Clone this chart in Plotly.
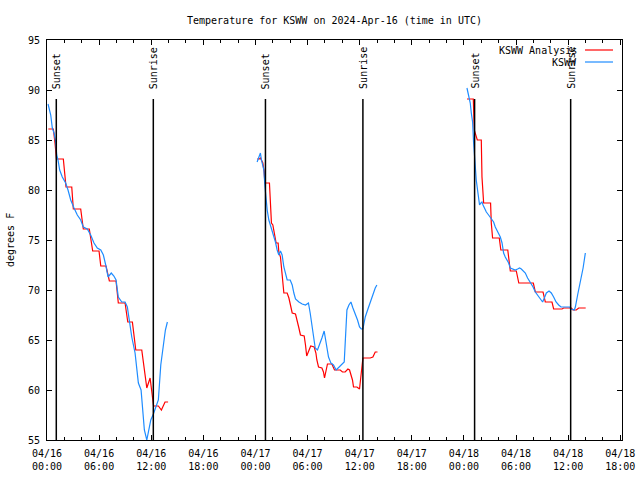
import plotly.graph_objects as go
import pandas as pd

# ---------------- data (hours since 2024-04-16 00:00 UTC, temperature in F) ----------------
# KSWW Analysis (red)
r1_h = [0.15, 0.73, 0.92, 1.09, 1.88, 2.19, 2.85, 3.03, 3.88, 4.18, 4.87, 5.26, 5.99, 6.19, 6.80, 7.18,
        7.95, 8.21, 8.99, 9.30, 9.83, 10.22, 10.91, 11.21, 11.49, 11.87, 12.13, 12.27, 12.82, 13.17, 13.59, 13.94]
r1_t = [86.1, 86.1, 84.7, 83.1, 83.1, 80.3, 80.3, 78.1, 78.1, 76.1, 76.1, 73.9, 73.9, 72.4, 72.4, 70.9,
        70.9, 68.7, 68.7, 66.8, 66.8, 64.0, 64.0, 61.7, 60.2, 61.2, 59.0, 58.4, 58.4, 58.0, 58.8, 58.8]
r2_h = [24.19, 24.46, 24.57, 24.85, 25.00, 25.08, 25.61, 25.73, 25.84, 26.00, 26.12, 26.23, 26.38, 26.61,
        26.69, 26.88, 26.99, 27.15, 27.27, 27.65, 27.85, 28.03, 28.23, 28.61, 28.80, 29.00, 29.18, 29.61,
        29.76, 29.90, 30.13, 30.36, 30.76, 30.96, 31.07, 31.26, 31.65, 31.83, 31.95, 32.14, 32.29, 32.80,
        32.98, 33.10, 33.76, 34.02, 34.33, 34.64, 34.83, 34.99, 35.17, 35.29, 35.68, 35.98, 36.14, 36.26,
        36.37, 37.21, 37.52, 37.79, 38.05]
r2_t = [83.1, 83.1, 83.2, 82.7, 81.8, 80.7, 80.7, 78.3, 76.7, 76.5, 75.8, 75.2, 74.7, 74.7,
        73.8, 73.3, 72.2, 71.0, 69.7, 69.7, 69.2, 68.5, 67.7, 67.6, 67.0, 66.2, 65.5, 65.4,
        64.5, 63.4, 63.9, 64.4, 64.3, 63.7, 63.0, 62.3, 62.2, 61.8, 61.2, 62.0, 62.6, 62.6,
        62.3, 62.0, 62.0, 61.8, 61.8, 62.1, 62.0, 61.5, 61.0, 60.3, 60.3, 60.1, 61.5, 62.6,
        63.2, 63.2, 63.3, 63.8, 63.8]
r3_h = [48.35, 49.08, 49.19, 49.37, 49.54, 50.00, 50.08, 50.27, 51.07, 51.15, 51.30, 52.07, 52.25, 53.05,
        53.26, 53.34, 54.03, 54.32, 55.99, 56.22, 57.11, 57.37, 58.14, 58.33, 59.30, 59.48, 60.37, 60.56,
        60.94, 61.21, 62.02]
r3_t = [89.1, 89.1, 86.0, 85.4, 85.0, 85.0, 81.3, 78.7, 78.7, 76.7, 75.2, 75.2, 74.0, 74.0,
        72.2, 71.9, 71.9, 70.7, 70.7, 69.8, 69.8, 68.8, 68.8, 68.1, 68.1, 68.2, 68.2, 68.0,
        68.0, 68.2, 68.2]

# KSWW observations (blue)
b1_h = [0.12, 0.43, 0.61, 0.81, 1.00, 1.12, 1.27, 1.46, 1.76, 2.15, 2.42, 2.73, 3.11, 3.49, 3.88, 4.18,
        4.64, 5.03, 5.41, 5.79, 6.19, 6.49, 6.76, 7.03, 7.40, 7.70, 7.95, 8.21, 8.61, 8.99, 9.25, 9.48,
        9.76, 10.14, 10.52, 10.83, 11.03, 11.21, 11.49, 11.72, 11.95, 12.25, 12.56, 12.82, 13.10, 13.40,
        13.63, 13.86]
b1_t = [88.6, 87.5, 86.2, 85.7, 84.8, 83.5, 83.0, 82.0, 81.3, 80.7, 80.0, 79.0, 78.2, 77.5, 77.0, 76.3,
        76.1, 75.5, 74.7, 74.2, 74.0, 73.5, 72.5, 71.3, 71.7, 71.4, 71.0, 69.3, 68.8, 68.8, 68.3, 66.7,
        65.3, 63.7, 60.7, 60.0, 58.0, 56.0, 55.0, 56.0, 57.0, 57.6, 58.3, 59.0, 62.5, 64.5,
        66.0, 66.8]
b2_h = [24.19, 24.39, 24.57, 24.69, 24.85, 24.97, 25.08, 25.23, 25.35, 25.54, 25.73, 25.92, 26.12, 26.30,
        26.50, 26.69, 26.88, 27.07, 27.27, 27.45, 27.65, 28.00, 28.23, 28.42, 28.61, 29.00, 29.38, 29.76,
        30.10, 30.30, 30.61, 30.88, 31.14, 31.37, 31.65, 31.91, 32.14, 32.41, 32.68, 32.98, 33.29, 33.67,
        33.95, 34.22, 34.41, 34.53, 34.76, 34.99, 35.22, 35.48, 35.75, 35.98, 36.18, 36.37, 36.64, 36.95,
        37.21, 37.52, 37.79, 37.98]
b2_t = [82.8, 83.2, 83.7, 83.0, 82.5, 82.0, 80.5, 78.7, 78.0, 77.0, 76.5, 76.0, 75.5, 74.8,
        74.0, 73.5, 73.9, 73.5, 72.3, 71.5, 71.0, 71.0, 70.5, 69.7, 69.1, 68.8, 68.6, 68.5,
        68.7, 67.7, 66.0, 64.2, 64.0, 64.5, 65.2, 65.9, 64.5, 63.3, 62.7, 62.5, 62.0, 62.3,
        62.5, 62.8, 66.0, 68.0, 68.5, 68.8, 68.2, 67.7, 67.0, 66.3, 66.1, 66.1, 67.3, 68.1,
        68.8, 69.5, 70.2, 70.5]
b3_h = [48.35, 48.54, 48.73, 48.85, 49.00, 49.11, 49.23, 49.31, 49.42, 49.57, 49.69, 49.80, 49.96, 50.08,
        50.20, 50.35, 50.58, 50.84, 51.12, 51.42, 51.61, 51.81, 51.99, 52.19, 52.39, 52.57, 52.76, 52.96,
        53.15, 53.34, 53.65, 53.92, 54.18, 54.41, 54.61, 54.80, 55.07, 55.33, 55.65, 55.96, 56.22, 56.49,
        56.80, 57.06, 57.26, 57.49, 57.80, 58.06, 58.33, 58.61, 58.91, 59.18, 60.17, 60.33, 60.71, 60.83,
        61.09, 61.40, 61.72, 61.98]
b3_t = [90.2, 89.5, 88.7, 87.7, 86.8, 84.8, 83.3, 82.0, 81.0, 80.0, 79.3, 78.5, 78.7, 78.8,
        78.5, 78.2, 77.8, 77.5, 77.2, 76.8, 76.3, 76.0, 75.7, 75.3, 74.7, 73.7, 73.3, 73.0,
        72.7, 72.2, 72.1, 72.0, 72.1, 72.2, 72.1, 71.9, 71.7, 71.2, 70.8, 70.3, 69.8, 69.5,
        69.2, 68.8, 69.2, 69.7, 69.9, 69.7, 69.3, 68.8, 68.5, 68.3, 68.3, 68.1, 68.0, 68.3,
        69.5, 70.8, 72.2, 73.7]

sun_hours = [1.07, 12.24, 25.15, 36.37, 49.23, 60.29]
sun_labels = ["Sunset", "Sunrise", "Sunset", "Sunrise", "Sunset", "Sunrise"]

tick_hours = [0, 6, 12, 18, 24, 30, 36, 42, 48, 54, 60, 66]
minor_hours = [h for h in range(0, 67, 2)]
series_names = ["KSWW Analysis", "KSWW"]
series_colors = ["#ff0000", "#1e8cff"]
y_ticks = [55, 60, 65, 70, 75, 80, 85, 90, 95]

BASE = pd.Timestamp("2024-04-16 00:00")


def to_time(hours):
    return [BASE + pd.Timedelta(hours=h) for h in hours]


FONT = "DejaVu Sans Mono"
fig = go.Figure()

for h, t in [(r1_h, r1_t), (r2_h, r2_t), (r3_h, r3_t)]:
    fig.add_trace(go.Scatter(x=to_time(h), y=t, mode="lines", name=series_names[0],
                             line=dict(color=series_colors[0], width=1.2), showlegend=False))
for h, t in [(b1_h, b1_t), (b2_h, b2_t), (b3_h, b3_t)]:
    fig.add_trace(go.Scatter(x=to_time(h), y=t, mode="lines", name=series_names[1],
                             line=dict(color=series_colors[1], width=1.2), showlegend=False))

for h, lab in zip(sun_hours, sun_labels):
    tt = BASE + pd.Timedelta(hours=h)
    fig.add_shape(type="line", xref="x", yref="y", x0=tt, x1=tt, y0=55, y1=89.1,
                  line=dict(color="black", width=1.5))
    fig.add_annotation(x=tt, y=89.9, xref="x", yref="y", text=lab, textangle=-90, showarrow=False,
                       xanchor="center", yanchor="bottom", font=dict(family=FONT, size=10, color="black"))

tick_times = to_time(tick_hours)
tick_text = [f"{t.strftime('%m/%d')}<br>{t.strftime('%H:%M')}" for t in tick_times]

fig.update_layout(
    width=640, height=480,
    margin=dict(l=47, r=18, t=40, b=40, autoexpand=False),
    paper_bgcolor="white", plot_bgcolor="white",
    font=dict(family=FONT, size=10, color="black"),
    title=dict(text="Temperature for KSWW on 2024-Apr-16 (time in UTC)", x=0.5, xref="paper",
               y=1 - 20 / 480, yref="container", yanchor="middle", automargin=False,
               font=dict(family=FONT, size=10, color="black")),
    showlegend=False,
)
fig.update_xaxes(
    range=[BASE, BASE + pd.Timedelta(hours=66.2)], automargin=False,
    tickmode="array", tickvals=tick_times, ticktext=tick_text,
    ticks="inside", ticklen=5, tickcolor="black", showline=True, linecolor="black", linewidth=1,
    mirror="ticks", showgrid=False, zeroline=False, ticklabelstandoff=4,
    tickfont=dict(family=FONT, size=10, color="black"),
    minor=dict(tickmode="array", tickvals=to_time(minor_hours), ticks="inside", ticklen=3,
               tickcolor="black", showgrid=False),
)
fig.update_yaxes(
    range=[55, 95], tickmode="array", tickvals=y_ticks, automargin=False,
    ticks="inside", ticklen=5, tickcolor="black", showline=True, linecolor="black", linewidth=1,
    mirror="ticks", showgrid=False, zeroline=False, ticklabelstandoff=4,
    tickfont=dict(family=FONT, size=10, color="black"),
)

# y-axis label
fig.add_annotation(xref="paper", yref="paper", x=(10 - 47) / 575, y=0.5, text="degrees F",
                   textangle=-90, showarrow=False, xanchor="center", yanchor="middle",
                   font=dict(family=FONT, size=10, color="black"))

# legend (text on left, line sample on right, as in the original)
for i, (nm, col) in enumerate(zip(series_names, series_colors)):
    ypx = 50 + 12 * i
    yp = (440 - ypx) / 400
    fig.add_annotation(xref="paper", yref="paper", x=(579 - 47) / 575, y=yp, text=nm, showarrow=False,
                       xanchor="right", yanchor="middle", font=dict(family=FONT, size=10, color="black"))
    fig.add_shape(type="line", xref="paper", yref="paper", x0=(585 - 47) / 575, x1=(613 - 47) / 575,
                  y0=yp, y1=yp, line=dict(color=col, width=1.2))

fig.write_html("out.html", config={"displayModeBar": False},
               post_script="document.body.style.margin='0';document.body.style.padding='0';")
